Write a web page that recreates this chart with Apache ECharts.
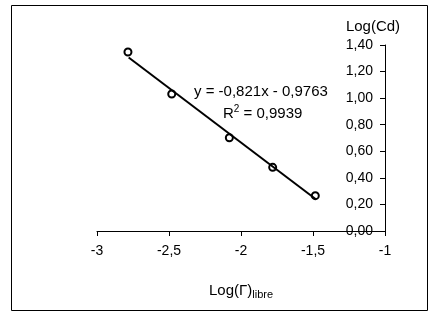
<!DOCTYPE html>
<html>
<head>
<meta charset="utf-8">
<script src="https://cdn.jsdelivr.net/npm/echarts@6/dist/echarts.min.js"></script>
<style>
  html, body { margin: 0; padding: 0; background: #fff; }
  #chart { width: 440px; height: 319px; }
</style>
</head>
<body>
<div id="chart"></div>
<script>
// measured points
var logGamma = [-2.785, -2.481, -2.081, -1.780, -1.484];
var logCd = [1.347, 1.031, 0.702, 0.479, 0.266];
// trend line ends
var trendX = [-2.78, -1.48];
var trendY = [1.306, 0.239];
var xTicks = { min: -3, max: -1, step: 0.5 };
var yTicks = { min: 0, max: 1.4, step: 0.2 };

var font = 'Liberation Sans, Arial, sans-serif';
function comma(v, d) {
    return (d == null ? String(v) : v.toFixed(d)).replace('.', ',');
}

var chart = echarts.init(document.getElementById('chart'));
chart.setOption({
    animation: false,
    grid: { left: 97, right: 55, top: 45, bottom: 88 },
    graphic: [
        {
            type: 'rect',
            shape: { x: 11.5, y: 5.5, width: 416, height: 305 },
            style: { fill: 'none', stroke: '#000', lineWidth: 1 }
        },
        {
            type: 'text', left: 194, top: 84,
            style: { text: 'y = -0,821x - 0,9763', font: '15px ' + font, fill: '#000' }
        },
        {
            type: 'text', left: 223, top: 104,
            style: {
                text: '{a|R}{s|2}{a| = 0,9939}',
                rich: {
                    a: { fontSize: 15, fontFamily: font, fill: '#000', verticalAlign: 'bottom' },
                    s: { fontSize: 10, fontFamily: font, fill: '#000', verticalAlign: 'top', padding: [0, 0, 7, 0] }
                }
            }
        }
    ],
    xAxis: {
        type: 'value',
        min: xTicks.min, max: xTicks.max, interval: xTicks.step,
        name: '{a|Log(Γ)}{b|libre}',
        nameLocation: 'middle',
        nameGap: 50,
        nameTextStyle: {
            rich: {
                a: { fontSize: 15, fontFamily: font, color: '#000' },
                b: { fontSize: 11, fontFamily: font, color: '#000', padding: [8, 0, 0, 0] }
            }
        },
        splitLine: { show: false },
        axisLine: { onZero: false, lineStyle: { color: '#000', width: 1 } },
        axisTick: { length: 5, lineStyle: { color: '#000' } },
        axisLabel: {
            color: '#000', fontSize: 14, fontFamily: font, margin: 13,
            formatter: function (v) { return comma(v); }
        }
    },
    yAxis: {
        type: 'value',
        position: 'right',
        min: yTicks.min, max: yTicks.max, interval: yTicks.step,
        name: 'Log(Cd)',
        nameLocation: 'end',
        nameGap: 11,
        nameTextStyle: { color: '#000', fontSize: 15, fontFamily: font, align: 'center', padding: [0, 24, 0, 0] },
        splitLine: { show: false },
        axisLine: { show: true, onZero: false, lineStyle: { color: '#000', width: 1 } },
        axisTick: { show: true, inside: true, length: 5, lineStyle: { color: '#000' } },
        axisLabel: {
            inside: true, color: '#000', fontSize: 14, fontFamily: font, margin: 12,
            formatter: function (v) { return comma(v, 2); }
        }
    },
    series: [
        {
            type: 'scatter',
            data: logGamma.map(function (x, i) { return [x, logCd[i]]; }),
            symbol: 'circle',
            symbolSize: 7,
            itemStyle: { color: '#fff', borderColor: '#000', borderWidth: 2, opacity: 1 },
            z: 2
        },
        {
            type: 'line',
            data: trendX.map(function (x, i) { return [x, trendY[i]]; }),
            showSymbol: false,
            symbol: 'none',
            lineStyle: { color: '#000', width: 2 },
            z: 3
        }
    ]
});
</script>
</body>
</html>
